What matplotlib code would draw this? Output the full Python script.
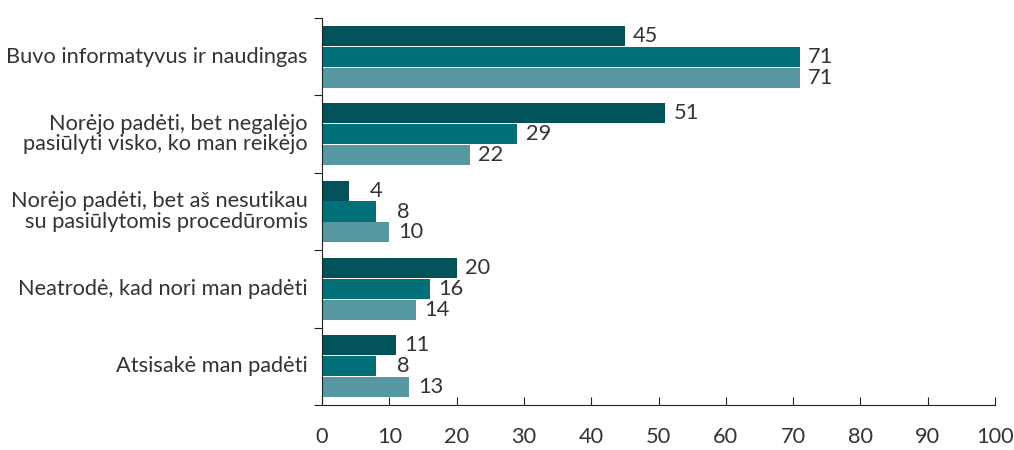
import numpy as np
import matplotlib
matplotlib.use('Agg')
import matplotlib.pyplot as plt

# categories, top to bottom
categories = ['Buvo informatyvus ir naudingas',
              'Norėjo padėti, bet negalėjo\npasiūlyti visko, ko man reikėjo',
              'Norėjo padėti, bet aš nesutikau\nsu pasiūlytomis procedūromis',
              'Neatrodė, kad nori man padėti',
              'Atsisakė man padėti']
series_1 = [45, 51, 4, 20, 11]
series_2 = [71, 29, 8, 16, 8]
series_3 = [71, 22, 10, 14, 13]
x_ticks = [0, 10, 20, 30, 40, 50, 60, 70, 80, 90, 100]

colors = ['#02525c', '#027079', '#5697a1']
txt = '#333333'
fs = 15.7
plt.rcParams['font.family'] = ['Lato', 'DejaVu Sans']

fig = plt.figure(figsize=(10.14, 4.5), dpi=100)
ax = fig.add_axes([322/1014, 1-405/450, 673/1014, 387/450])

y = np.arange(len(categories))
h = 0.26
for k, vals in enumerate([series_1, series_2, series_3]):
    pos = y + (k-1)*0.27
    ax.barh(pos, vals, height=h, color=colors[k])
    for p, v in zip(pos, vals):
        ax.text(v+5, p, str(v), ha='right', va='center', fontsize=fs, color=txt)

ax.set_xlim(0, 100)
ax.set_ylim(len(categories)-0.5, -0.5)
ax.set_xticks(x_ticks)
ax.tick_params(axis='x', direction='in', length=6, colors='#222222', labelcolor=txt,
               labelsize=fs, pad=16)
# category labels with boundary ticks
ax.set_yticks(np.arange(len(categories)+1)-0.5)
ax.set_yticklabels([])
ax.tick_params(axis='y', direction='out', length=6, colors='#222222')
for i, c in enumerate(categories):
    ax.text(-2.1, i, c, ha='right', va='center', fontsize=fs, color=txt,
            linespacing=1.05)
for s in ['top', 'right']:
    ax.spines[s].set_visible(False)
ax.spines['left'].set_color('#222222')
ax.spines['bottom'].set_color('#222222')

fig.savefig('out.png', dpi=100)
